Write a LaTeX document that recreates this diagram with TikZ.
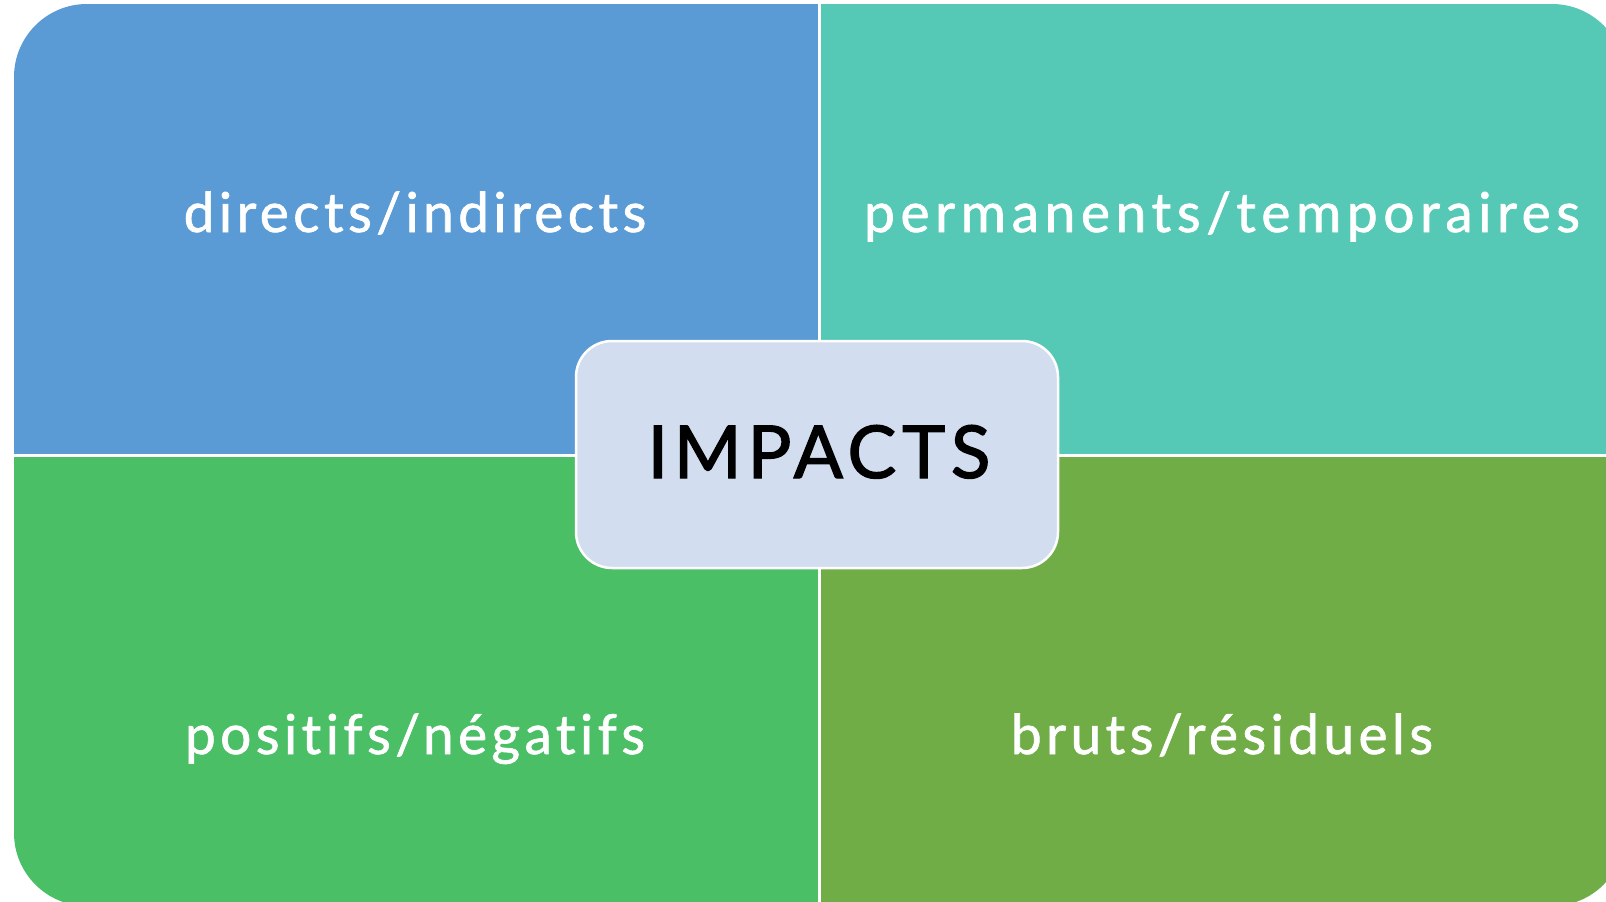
\documentclass[tikz,border=0pt]{standalone}
\usepackage{fontspec}
\setmainfont{Lato}
\newfontfamily\lblfont{Lato}[LetterSpace=8, Ligatures=NoCommon, FakeBold=1.2]
\newfontfamily\lblwidefont{Lato}[LetterSpace=10.2, Ligatures=NoCommon, FakeBold=1.2]
\newfontfamily\ctrfont{Lato}[LetterSpace=8, Ligatures=NoCommon, FakeBold=1.8]
\definecolor{cTL}{HTML}{5B9BD5}
\definecolor{cTR}{HTML}{55C9B6}
\definecolor{cBL}{HTML}{4ABF65}
\definecolor{cBR}{HTML}{70AD47}
\definecolor{cC}{HTML}{D2DEEF}
\begin{document}
\begin{tikzpicture}[x=1pt,y=-1pt,
  quad/.style={rectangle, inner sep=0pt, outer sep=0pt, anchor=north west, draw=none},
  lbl/.style={text=white, font=\lblfont\fontsize{55}{62}\selectfont, anchor=base, inner sep=0pt},
  lblwide/.style={lbl, font=\lblwidefont\fontsize{55}{62}\selectfont},
  centerbox/.style={rectangle, rounded corners=36pt, fill=cC, draw=white, line width=2.5pt,
     minimum width=482pt, minimum height=227pt, inner sep=0pt},
  divider/.style={white, line width=3pt}]
\useasboundingbox (0,0) rectangle (1606,902);
\begin{scope}
  \clip[rounded corners=73pt] (14,4) rectangle (1625,906);
  \node[quad, fill=cTL, minimum width=805pt, minimum height=451pt] (tl) at (14,4) {};
  \node[quad, fill=cTR, minimum width=806pt, minimum height=451pt] (tr) at (819,4) {};
  \node[quad, fill=cBL, minimum width=805pt, minimum height=452pt] (bl) at (14,454) {};
  \node[quad, fill=cBR, minimum width=806pt, minimum height=452pt] (br) at (819,454) {};
\end{scope}
\draw[divider] (tl.north east) -- (bl.south east);
\draw[divider] (tl.south west) -- (tr.south east);
\node[lbl] (tlt) at (415,232) {directs/indirects};
\node[lblwide] (trt) at (1222,232) {permanents/temporaires};
\node[lbl] (blt) at (415,754) {positifs/négatifs};
\node[lbl] (brt) at (1222,754) {bruts/résiduels};
\node[centerbox] (c) at (817,454.5) {};
\node[anchor=base, inner sep=0pt, font=\ctrfont\fontsize{73}{80}\selectfont] (ct) at (819,478) {IMPACTS};
\end{tikzpicture}
\end{document}
